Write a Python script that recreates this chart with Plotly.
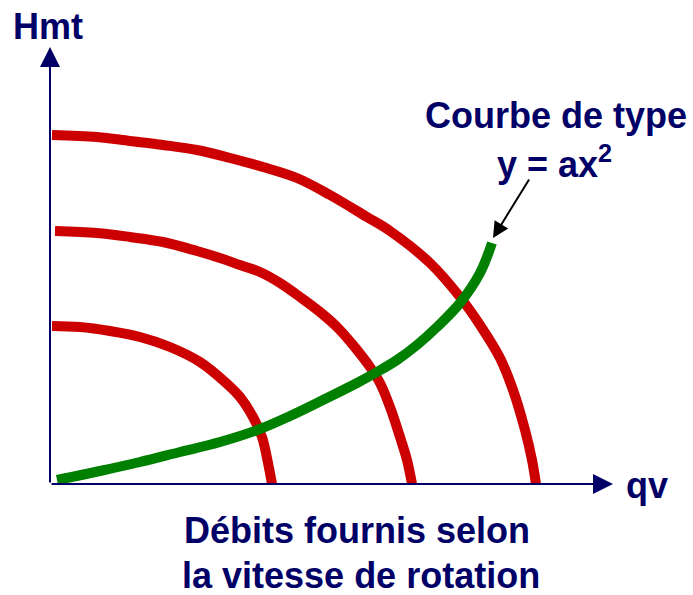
import plotly.graph_objects as go

# Pump curves (Hmt vs qv) at three rotation speeds, arbitrary units
inner_qv = [0.02, 0.30, 0.60, 0.90, 1.20, 1.50, 1.75, 1.90, 2.03, 2.12, 2.17, 2.22]
inner_h = [1.58, 1.57, 1.53, 1.47, 1.37, 1.22, 1.02, 0.87, 0.67, 0.47, 0.26, 0.0]

middle_qv = [0.05, 0.47, 0.80, 1.13, 1.47, 1.70, 1.90, 2.10, 2.30, 2.50, 2.70, 2.87, 3.03, 3.20, 3.30, 3.40, 3.50, 3.57, 3.62]
middle_h = [2.53, 2.51, 2.47, 2.42, 2.33, 2.26, 2.19, 2.12, 2.01, 1.87, 1.72, 1.57, 1.39, 1.17, 1.01, 0.77, 0.47, 0.24, 0.0]

outer_qv = [0.02, 0.47, 0.80, 1.13, 1.47, 1.80, 2.13, 2.47, 2.80, 3.17, 3.40, 3.80, 4.10, 4.30, 4.50, 4.63, 4.75, 4.82, 4.86]
outer_h = [3.49, 3.47, 3.43, 3.39, 3.34, 3.26, 3.17, 3.06, 2.89, 2.67, 2.53, 2.21, 1.87, 1.59, 1.26, 0.94, 0.54, 0.24, 0.0]

# Curve of type y = a x^2 (network curve)
green_qv = [0.07, 0.50, 0.90, 1.30, 1.70, 2.10, 2.40, 2.73, 3.07, 3.27, 3.47, 3.67, 3.87, 4.10, 4.30, 4.42]
green_h = [0.04, 0.13, 0.22, 0.32, 0.42, 0.55, 0.68, 0.84, 1.01, 1.12, 1.24, 1.39, 1.57, 1.81, 2.11, 2.41]

X_MAX = 5.63
Y_MAX = 4.37

RED = "#CC0000"
GREEN = "#008000"
NAVY = "#000066"

fig = go.Figure()
for xs, ys in [(inner_qv, inner_h), (middle_qv, middle_h), (outer_qv, outer_h)]:
    fig.add_trace(go.Scatter(x=xs, y=ys, mode="lines",
                             line=dict(color=RED, width=10, shape="spline"),
                             hoverinfo="skip"))
fig.add_trace(go.Scatter(x=green_qv, y=green_h, mode="lines",
                         line=dict(color=GREEN, width=10, shape="spline"),
                         hoverinfo="skip"))

BOLD = dict(family="Liberation Sans, Arial, sans-serif", size=36, color=NAVY, weight="bold")

ann = []
# axes with arrowheads
ann.append(dict(x=0, y=Y_MAX, ax=0, ay=0, xref="x", yref="y", axref="x", ayref="y",
                showarrow=True, arrowhead=2, arrowsize=2, arrowwidth=2, arrowcolor=NAVY, text=""))
ann.append(dict(x=X_MAX, y=0, ax=0, ay=0, xref="x", yref="y", axref="x", ayref="y",
                showarrow=True, arrowhead=2, arrowsize=2, arrowwidth=2, arrowcolor=NAVY, text=""))
# pointer arrow
ann.append(dict(x=4.43, y=2.46, ax=4.80, ay=3.06, xref="x", yref="y", axref="x", ayref="y",
                showarrow=True, arrowhead=2, arrowsize=1.6, arrowwidth=2, arrowcolor="black", text=""))


def txt(text, px, py, font):
    return dict(x=(px - 50) / 563, y=(484 - py) / 437, xref="paper", yref="paper",
                text=text, showarrow=False, font=font, xanchor="center", yanchor="middle")


ann.append(txt("Hmt", 48, 26.5, BOLD))
ann.append(txt("qv", 647, 485.5, BOLD))
ann.append(txt("Courbe de type", 556, 115.5, BOLD))
ann.append(txt("y = ax<sup>2</sup>", 554, 161.5, BOLD))
ann.append(txt("Débits fournis selon", 357, 530.5, BOLD))
ann.append(txt("la vitesse de rotation", 361, 575.5, BOLD))

fig.update_layout(
    width=693, height=595,
    margin=dict(l=50, r=80, t=47, b=111),
    paper_bgcolor="white", plot_bgcolor="white",
    showlegend=False,
    xaxis=dict(range=[0, X_MAX], visible=False, fixedrange=True),
    yaxis=dict(range=[0, Y_MAX], visible=False, fixedrange=True),
    annotations=ann,
)

fig.write_html("out.html", config={"displayModeBar": False},
               post_script="document.body.style.margin='0';document.body.style.padding='0';")
